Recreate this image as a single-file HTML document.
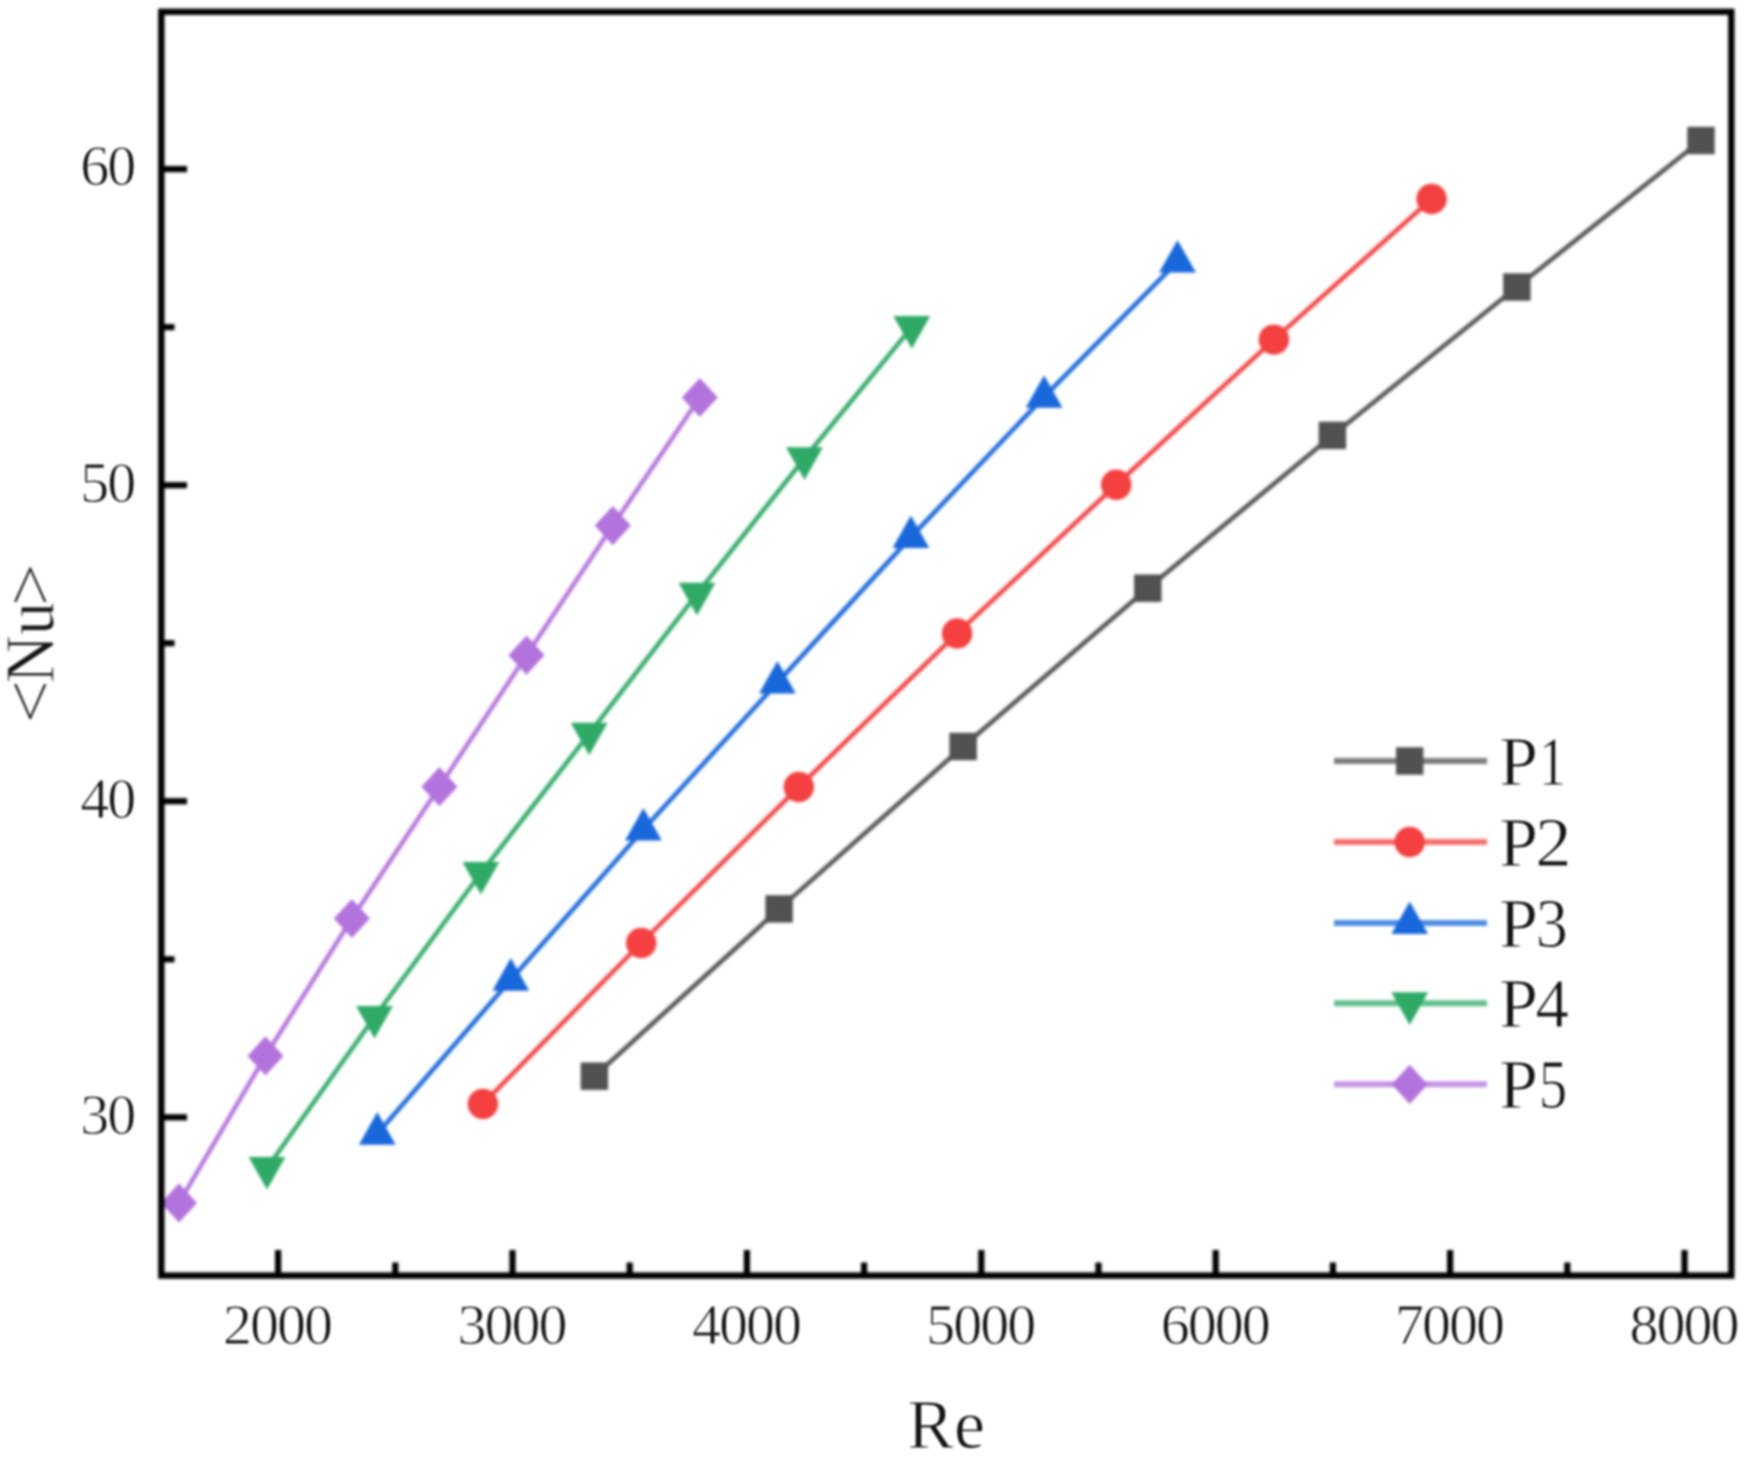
<!DOCTYPE html>
<html lang="en"><head><meta charset="utf-8"><title>Nu vs Re</title>
<style>html,body{margin:0;padding:0;background:#fff}body{width:1753px;height:1462px;overflow:hidden}svg{display:block}text{font-family:"Liberation Serif","DejaVu Serif",serif;fill:#141414;stroke:#fff;stroke-width:0.9px}</style></head><body>
<svg width="1753" height="1462" viewBox="0 0 1753 1462">
<defs>
<filter id="soft" x="0" y="0" width="1753" height="1462" filterUnits="userSpaceOnUse" color-interpolation-filters="sRGB"><feGaussianBlur stdDeviation="1.5"/></filter>
<filter id="softt" x="0" y="0" width="1753" height="1462" filterUnits="userSpaceOnUse" color-interpolation-filters="sRGB"><feGaussianBlur stdDeviation="1.05"/></filter>
</defs>
<rect width="1753" height="1462" fill="#fff"/>
<g id="shapes" filter="url(#soft)">
<polyline points="594.4,1076.2 779.1,908.9 963.1,746.5 1147.8,588.2 1332.4,435.4 1516.9,287.0 1701.0,140.5" fill="none" stroke="#515151" stroke-opacity="0.95" stroke-width="4.6" stroke-linejoin="round"/>
<rect x="580.7" y="1062.5" width="27.4" height="27.4" fill="#515151"/>
<rect x="765.4" y="895.2" width="27.4" height="27.4" fill="#515151"/>
<rect x="949.4" y="732.8" width="27.4" height="27.4" fill="#515151"/>
<rect x="1134.1" y="574.5" width="27.4" height="27.4" fill="#515151"/>
<rect x="1318.7" y="421.7" width="27.4" height="27.4" fill="#515151"/>
<rect x="1503.2" y="273.3" width="27.4" height="27.4" fill="#515151"/>
<rect x="1687.3" y="126.8" width="27.4" height="27.4" fill="#515151"/>
<polyline points="482.9,1103.9 641.2,943.0 798.8,787.0 957.1,633.4 1116.2,484.8 1273.9,339.6 1431.6,199.0" fill="none" stroke="#f44040" stroke-opacity="0.95" stroke-width="4.6" stroke-linejoin="round"/>
<circle cx="482.9" cy="1103.9" r="15.2" fill="#f44040"/>
<circle cx="641.2" cy="943.0" r="15.2" fill="#f44040"/>
<circle cx="798.8" cy="787.0" r="15.2" fill="#f44040"/>
<circle cx="957.1" cy="633.4" r="15.2" fill="#f44040"/>
<circle cx="1116.2" cy="484.8" r="15.2" fill="#f44040"/>
<circle cx="1273.9" cy="339.6" r="15.2" fill="#f44040"/>
<circle cx="1431.6" cy="199.0" r="15.2" fill="#f44040"/>
<polyline points="377.3,1133.7 510.8,979.7 643.4,829.5 777.4,682.6 910.9,537.1 1044.1,396.8 1177.5,261.6" fill="none" stroke="#1868dc" stroke-opacity="0.95" stroke-width="4.6" stroke-linejoin="round"/>
<polygon points="377.3,1112.1 395.7,1144.7 358.9,1144.7" fill="#1868dc"/>
<polygon points="510.8,958.1 529.2,990.7 492.4,990.7" fill="#1868dc"/>
<polygon points="643.4,807.9 661.8,840.5 625.0,840.5" fill="#1868dc"/>
<polygon points="777.4,661.0 795.8,693.6 759.0,693.6" fill="#1868dc"/>
<polygon points="910.9,515.5 929.3,548.1 892.5,548.1" fill="#1868dc"/>
<polygon points="1044.1,375.2 1062.5,407.8 1025.7,407.8" fill="#1868dc"/>
<polygon points="1177.5,240.0 1195.9,272.6 1159.1,272.6" fill="#1868dc"/>
<polyline points="267.0,1168.0 374.5,1017.0 480.9,873.0 589.2,733.7 697.0,593.8 804.5,458.3 911.8,327.1" fill="none" stroke="#2eaa66" stroke-opacity="0.95" stroke-width="4.6" stroke-linejoin="round"/>
<polygon points="267.0,1189.6 285.4,1157.0 248.6,1157.0" fill="#2eaa66"/>
<polygon points="374.5,1038.6 392.9,1006.0 356.1,1006.0" fill="#2eaa66"/>
<polygon points="480.9,894.6 499.3,862.0 462.5,862.0" fill="#2eaa66"/>
<polygon points="589.2,755.3 607.6,722.7 570.8,722.7" fill="#2eaa66"/>
<polygon points="697.0,615.4 715.4,582.8 678.6,582.8" fill="#2eaa66"/>
<polygon points="804.5,479.9 822.9,447.3 786.1,447.3" fill="#2eaa66"/>
<polygon points="911.8,348.7 930.2,316.1 893.4,316.1" fill="#2eaa66"/>
<polyline points="179.0,1202.9 265.5,1055.9 351.9,918.5 439.4,786.7 526.5,655.2 612.8,525.6 699.8,397.5" fill="none" stroke="#b373dd" stroke-opacity="0.95" stroke-width="4.6" stroke-linejoin="round"/>
<polygon points="179.0,1183.3 197.0,1202.9 179.0,1222.5 161.0,1202.9" fill="#b373dd"/>
<polygon points="265.5,1036.3 283.5,1055.9 265.5,1075.5 247.5,1055.9" fill="#b373dd"/>
<polygon points="351.9,898.9 369.9,918.5 351.9,938.1 333.9,918.5" fill="#b373dd"/>
<polygon points="439.4,767.1 457.4,786.7 439.4,806.3 421.4,786.7" fill="#b373dd"/>
<polygon points="526.5,635.6 544.5,655.2 526.5,674.8 508.5,655.2" fill="#b373dd"/>
<polygon points="612.8,506.0 630.8,525.6 612.8,545.2 594.8,525.6" fill="#b373dd"/>
<polygon points="699.8,377.9 717.8,397.5 699.8,417.1 681.8,397.5" fill="#b373dd"/>
<rect x="161.3" y="11.8" width="1570.0" height="1263.8" fill="none" stroke="#000" stroke-width="6.4"/>
<line x1="278.1" x2="278.1" y1="1275.6" y2="1250" stroke="#000" stroke-width="6.2"/>
<line x1="512.5" x2="512.5" y1="1275.6" y2="1250" stroke="#000" stroke-width="6.2"/>
<line x1="746.9" x2="746.9" y1="1275.6" y2="1250" stroke="#000" stroke-width="6.2"/>
<line x1="981.3" x2="981.3" y1="1275.6" y2="1250" stroke="#000" stroke-width="6.2"/>
<line x1="1215.7" x2="1215.7" y1="1275.6" y2="1250" stroke="#000" stroke-width="6.2"/>
<line x1="1450.1" x2="1450.1" y1="1275.6" y2="1250" stroke="#000" stroke-width="6.2"/>
<line x1="1684.5" x2="1684.5" y1="1275.6" y2="1250" stroke="#000" stroke-width="6.2"/>
<line x1="395.3" x2="395.3" y1="1275.6" y2="1262.5" stroke="#000" stroke-width="6.2"/>
<line x1="629.7" x2="629.7" y1="1275.6" y2="1262.5" stroke="#000" stroke-width="6.2"/>
<line x1="864.1" x2="864.1" y1="1275.6" y2="1262.5" stroke="#000" stroke-width="6.2"/>
<line x1="1098.5" x2="1098.5" y1="1275.6" y2="1262.5" stroke="#000" stroke-width="6.2"/>
<line x1="1332.9" x2="1332.9" y1="1275.6" y2="1262.5" stroke="#000" stroke-width="6.2"/>
<line x1="1567.3" x2="1567.3" y1="1275.6" y2="1262.5" stroke="#000" stroke-width="6.2"/>
<line y1="1117.3" y2="1117.3" x1="161.3" x2="187" stroke="#000" stroke-width="6.2"/>
<line y1="801.2" y2="801.2" x1="161.3" x2="187" stroke="#000" stroke-width="6.2"/>
<line y1="485.2" y2="485.2" x1="161.3" x2="187" stroke="#000" stroke-width="6.2"/>
<line y1="169.1" y2="169.1" x1="161.3" x2="187" stroke="#000" stroke-width="6.2"/>
<line y1="959.3" y2="959.3" x1="161.3" x2="174.5" stroke="#000" stroke-width="6.2"/>
<line y1="643.2" y2="643.2" x1="161.3" x2="174.5" stroke="#000" stroke-width="6.2"/>
<line y1="327.1" y2="327.1" x1="161.3" x2="174.5" stroke="#000" stroke-width="6.2"/>
<line x1="1334" x2="1487" y1="761" y2="761" stroke="#515151" stroke-opacity="0.76" stroke-width="6.0"/>
<rect x="1396.0" y="747.3" width="27.4" height="27.4" fill="#515151"/>
<line x1="1334" x2="1487" y1="842" y2="842" stroke="#f44040" stroke-opacity="0.76" stroke-width="6.0"/>
<circle cx="1409.7" cy="842.0" r="15.2" fill="#f44040"/>
<line x1="1334" x2="1487" y1="923" y2="923" stroke="#1868dc" stroke-opacity="0.76" stroke-width="6.0"/>
<polygon points="1409.7,901.4 1428.1,934.0 1391.3,934.0" fill="#1868dc"/>
<line x1="1334" x2="1487" y1="1003.3" y2="1003.3" stroke="#2eaa66" stroke-opacity="0.76" stroke-width="6.0"/>
<polygon points="1409.7,1024.9 1428.1,992.3 1391.3,992.3" fill="#2eaa66"/>
<line x1="1334" x2="1487" y1="1084.3" y2="1084.3" stroke="#b373dd" stroke-opacity="0.76" stroke-width="6.0"/>
<polygon points="1409.7,1064.7 1427.7,1084.3 1409.7,1103.9 1391.7,1084.3" fill="#b373dd"/>
</g>
<g id="labels" filter="url(#softt)">
<text x="223.1" y="1343.7" font-size="58" letter-spacing="-2">2000</text>
<text x="457.5" y="1343.7" font-size="58" letter-spacing="-2">3000</text>
<text x="691.9" y="1343.7" font-size="58" letter-spacing="-2">4000</text>
<text x="926.3" y="1343.7" font-size="58" letter-spacing="-2">5000</text>
<text x="1160.7" y="1343.7" font-size="58" letter-spacing="-2">6000</text>
<text x="1395.1" y="1343.7" font-size="58" letter-spacing="-2">7000</text>
<text x="1629.5" y="1343.7" font-size="58" letter-spacing="-2">8000</text>
<text x="80.2" y="1133.6" font-size="58" letter-spacing="-2">30</text>
<text x="80.2" y="817.5" font-size="58" letter-spacing="-2">40</text>
<text x="80.2" y="501.5" font-size="58" letter-spacing="-2">50</text>
<text x="80.2" y="185.4" font-size="58" letter-spacing="-2">60</text>
<text x="907.3" y="1448.0" font-size="70">Re</text>
<text transform="translate(53.5,723.2) rotate(-90)" font-size="70"><tspan x="-0.5" textLength="43.90" lengthAdjust="spacingAndGlyphs">&lt;</tspan><tspan x="39.6" textLength="48.82" lengthAdjust="spacingAndGlyphs">N</tspan><tspan x="88.0" textLength="33.18" lengthAdjust="spacingAndGlyphs">u</tspan><tspan x="117.0" textLength="43.03" lengthAdjust="spacingAndGlyphs">&gt;</tspan></text>
<text x="1499" y="784.6" font-size="70">P<tspan x="1538.5" textLength="28.00" lengthAdjust="spacingAndGlyphs">1</tspan></text>
<text x="1499" y="865.6" font-size="70">P<tspan x="1535.2" textLength="36.29" lengthAdjust="spacingAndGlyphs">2</tspan></text>
<text x="1499" y="946.6" font-size="70">P<tspan x="1535.8" textLength="32.06" lengthAdjust="spacingAndGlyphs">3</tspan></text>
<text x="1499" y="1026.9" font-size="70">P<tspan x="1535.6" textLength="33.53" lengthAdjust="spacingAndGlyphs">4</tspan></text>
<text x="1499" y="1107.9" font-size="70">P<tspan x="1538.7" textLength="28.49" lengthAdjust="spacingAndGlyphs">5</tspan></text>
</g></svg></body></html>
